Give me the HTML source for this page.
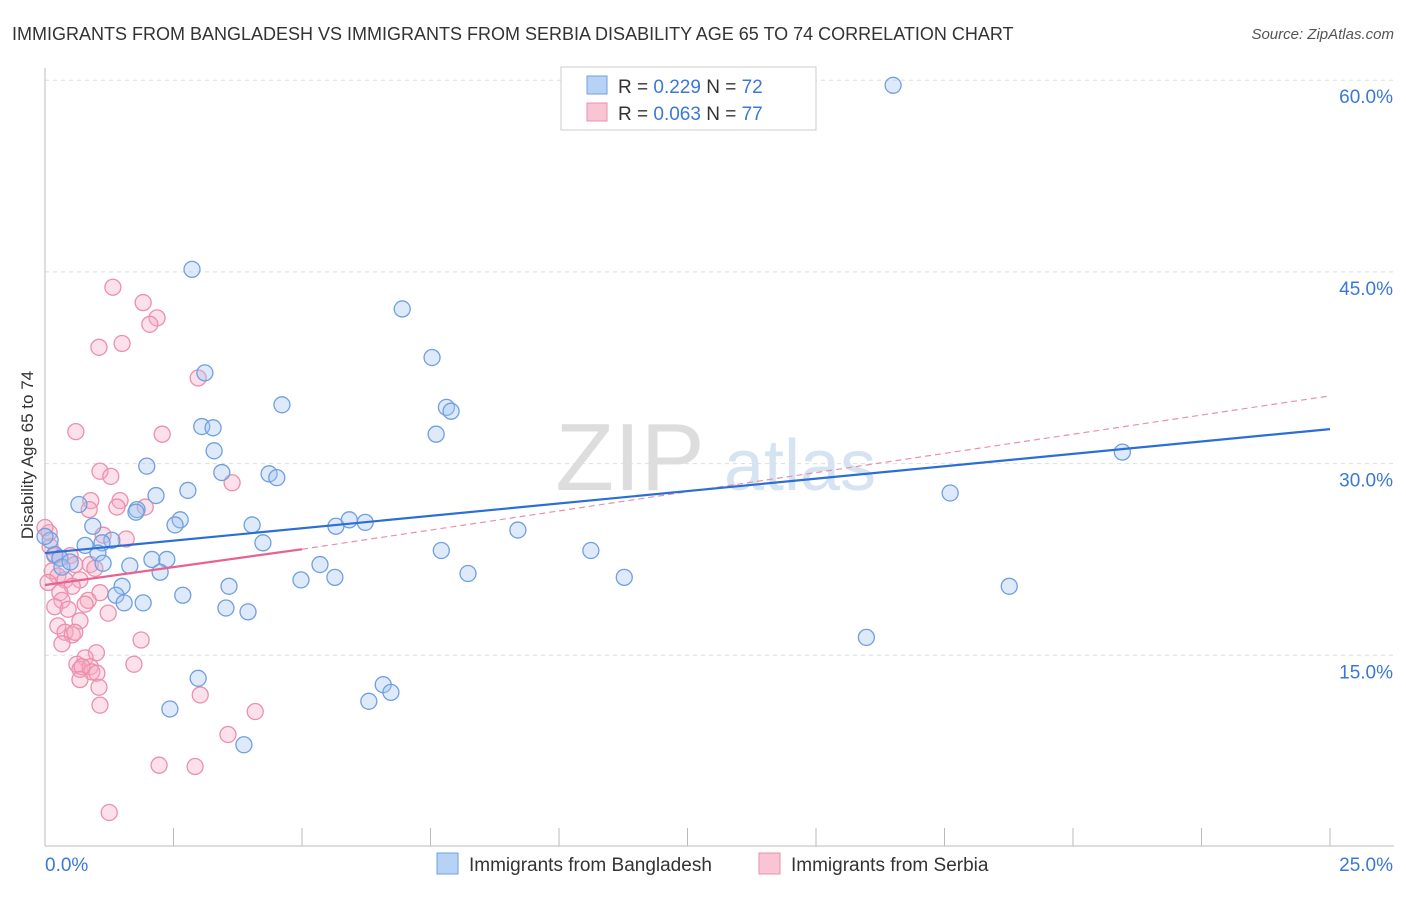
<!DOCTYPE html>
<html><head><meta charset="utf-8"><style>
body{margin:0;background:#fff;font-family:"Liberation Sans",sans-serif;}
svg text{font-family:"Liberation Sans",sans-serif;}
</style></head><body>
<svg id="chart" width="1406" height="892">
<text x="12" y="40" font-size="18" fill="#333">IMMIGRANTS FROM BANGLADESH VS IMMIGRANTS FROM SERBIA DISABILITY AGE 65 TO 74 CORRELATION CHART</text>
<text x="1394" y="39" font-size="15" fill="#555" font-style="italic" text-anchor="end">Source: ZipAtlas.com</text>
<text x="630" y="490" font-size="96" fill="#ddd" font-family="Liberation Serif" text-anchor="middle">ZIP</text>
<text x="800" y="490" font-size="72" fill="#d5e3f3" text-anchor="middle">atlas</text>
<g id="grid"></g><g id="axes"></g><g id="marks"></g>
<text transform="translate(33,455) rotate(-90)" font-size="17" fill="#333" text-anchor="middle">Disability Age 65 to 74</text>
<g>
<rect x="561" y="67" width="255" height="63" fill="#fff" stroke="#ccc"/>
<rect x="587" y="76" width="20" height="18" fill="#b7d2f5" stroke="#6f9fe0"/>
<rect x="587" y="103" width="20" height="18" fill="#f9c4d4" stroke="#ec8fac"/>
<text x="618" y="93" font-size="19" fill="#333">R = <tspan fill="#3a78d8">0.229</tspan>   N = <tspan fill="#3a78d8">72</tspan></text>
<text x="618" y="120" font-size="19" fill="#333">R = <tspan fill="#3a78d8">0.063</tspan>   N = <tspan fill="#3a78d8">77</tspan></text>
</g>
<g>
<rect x="437" y="853" width="21" height="21" fill="#b7d2f5" stroke="#6f9fe0"/>
<text x="469" y="871" font-size="19" fill="#333">Immigrants from Bangladesh</text>
<rect x="759" y="853" width="21" height="21" fill="#f9c4d4" stroke="#ec8fac"/>
<text x="791" y="871" font-size="19" fill="#333">Immigrants from Serbia</text>
</g>
</svg>
<script>
const yTicks=[15,30,45,60];
const yTickLabels=["15.0%","30.0%","45.0%","60.0%"];
const xTickLabels=["0.0%","25.0%"];
const blueX=[16.5,2.86,6.95,7.53,3.11,4.61,7.81,7.9,3.05,3.27,7.61,3.29,1.98,3.44,4.36,4.51,20.96,2.78,2.16,0.66,1.79,1.77,17.61,2.63,2.53,0.93,5.92,6.23,5.66,4.03,9.2,1.3,1.11,4.24,10.62,7.71,1.03,0.19,0.29,2.08,2.37,5.35,1.65,1.13,0.33,2.24,8.23,5.64,4.98,11.27,3.58,1.5,18.76,1.38,2.68,1.91,1.54,3.52,3.95,15.98,2.98,6.58,6.73,6.3,2.43,3.87,0.1,0.0,0.49,0.78];
const blueY=[59.6,45.2,42.1,38.3,37.1,34.6,34.4,34.1,32.9,32.8,32.3,31.0,29.8,29.3,29.2,28.9,30.9,27.9,27.5,26.8,26.4,26.2,27.7,25.6,25.2,25.1,25.6,25.4,25.1,25.2,24.8,24.0,23.8,23.8,23.2,23.2,23.0,22.9,22.6,22.5,22.5,22.1,22.0,22.2,21.9,21.5,21.4,21.1,20.9,21.1,20.4,20.4,20.4,19.7,19.7,19.1,19.1,18.7,18.4,16.4,13.2,12.7,12.1,11.4,10.8,8.0,24.0,24.3,22.3,23.6];
const pinkX=[1.32,1.91,2.18,2.04,1.5,1.05,2.98,0.6,2.28,1.07,1.28,3.64,0.89,1.46,1.4,0.86,1.95,1.58,1.13,0.08,0.0,0.1,0.19,0.29,0.49,0.58,0.88,0.97,0.14,0.25,0.39,0.68,0.06,0.53,1.07,0.29,0.84,0.33,0.78,0.19,0.45,1.23,0.68,0.25,0.39,0.53,0.58,0.33,1.87,1.0,0.78,0.62,1.73,0.68,0.88,0.91,1.01,0.72,0.68,1.05,3.02,1.07,3.56,4.09,2.22,2.92,1.25];
const pinkY=[43.8,42.6,41.4,40.9,39.4,39.1,36.7,32.5,32.3,29.4,29.0,28.5,27.1,27.1,26.6,26.4,26.6,24.1,24.4,24.6,25.0,23.5,22.8,22.6,22.8,22.1,22.1,21.8,21.6,21.2,20.9,20.9,20.7,20.4,19.9,19.9,19.3,19.3,19.0,18.8,18.6,18.3,17.7,17.3,16.8,16.6,16.8,15.9,16.2,15.2,14.8,14.3,14.3,13.9,14.1,13.7,13.6,14.1,13.1,12.5,11.9,11.1,8.8,10.6,6.4,6.3,2.7];
const blueTrend=[[0,23.0],[25,32.7]];
const pinkTrendSolid=[[0,20.5],[5,23.3]];
const pinkTrendDash=[[5,23.3],[25,35.3]];
const NS="http://www.w3.org/2000/svg";
const X=v=>45+v/25*1285, Y=v=>847-v/15*191.7;
function mk(tag,attrs,parent){const e=document.createElementNS(NS,tag);for(const k in attrs)e.setAttribute(k,attrs[k]);document.getElementById(parent).appendChild(e);return e;}
yTicks.forEach((t,i)=>{
 const g=mk('line',{x1:45,x2:1394,y1:Y(t),y2:Y(t),stroke:'#ddd','stroke-dasharray':'4,4'},'grid');
 
 
 const tx=mk('text',{x:1393,y:Y(t)+23,'font-size':19,fill:'#3a78d8','text-anchor':'end'},'axes');
 tx.textContent=yTickLabels[i];
 
 
});
const ax=mk('line',{x1:45,x2:45,y1:68,y2:846,stroke:'#bbb'},'axes');


const bx=mk('line',{x1:45,x2:1394,y1:846,y2:846,stroke:'#bbb'},'axes');


for(let i=0;i<=10;i++){const t=mk('line',{x1:X(i*2.5),x2:X(i*2.5),y1:828,y2:846,stroke:'#bbb'},'axes');
 
 }
[[0,45,'start'],[1,1393,'end']].forEach(([i,x,a])=>{const t=mk('text',{x:x,y:871,'font-size':19,fill:'#3a78d8','text-anchor':a},'axes');t.textContent=xTickLabels[i];
 
 });
pinkX.forEach((v,i)=>{const c=mk('circle',{cx:X(v),cy:Y(pinkY[i]),r:8,fill:'rgba(246,170,195,0.35)',stroke:'#ec8fac','stroke-width':1.3},'marks');
 
 });
blueX.forEach((v,i)=>{const c=mk('circle',{cx:X(v),cy:Y(blueY[i]),r:8,fill:'rgba(160,195,240,0.35)',stroke:'#6f9fe0','stroke-width':1.3},'marks');
 
 });
function ln(p,st,name){const l=mk('line',Object.assign({x1:X(p[0][0]),y1:Y(p[0][1]),x2:X(p[1][0]),y2:Y(p[1][1])},st),'marks');
 
 }
ln(pinkTrendDash,{stroke:'#ec8fac','stroke-width':1.2,'stroke-dasharray':'6,4'},'serbia-trend-extension');
ln(blueTrend,{stroke:'#2b6fd6','stroke-width':2.2},'bangladesh-trend-line');
ln(pinkTrendSolid,{stroke:'#e8628f','stroke-width':2.2},'serbia-trend-line');
</script>
</body></html>
